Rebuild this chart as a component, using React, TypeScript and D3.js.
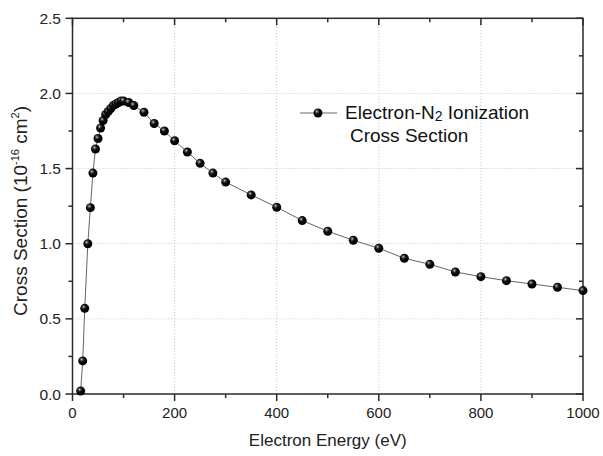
import React, { useRef, useEffect } from 'react';
import * as d3 from 'd3';

// electron energy (eV) and N2 ionization cross section (10^-16 cm^2)
const energy = [16, 20, 24, 30, 35, 40, 45, 50, 55, 60, 65, 70, 75, 80, 85, 90, 95, 100,
  110, 120, 140, 160, 180, 200, 225, 250, 275, 300,
  350, 400, 450, 500, 550, 600, 650, 700, 750, 800, 850, 900, 950, 1000];
const crossSection = [0.02, 0.22, 0.57, 1.0, 1.24, 1.47, 1.63, 1.7, 1.77, 1.82, 1.86, 1.88, 1.9, 1.92, 1.93, 1.94, 1.95, 1.95,
  1.94, 1.92, 1.875, 1.8, 1.75, 1.685, 1.61, 1.535, 1.47, 1.41,
  1.325, 1.243, 1.154, 1.083, 1.023, 0.97, 0.903, 0.863, 0.812, 0.781, 0.754, 0.732, 0.71, 0.688];
const xTicks = [0, 200, 400, 600, 800, 1000];
const xMinor = [100, 300, 500, 700, 900];
const yTicks = [0, 0.5, 1.0, 1.5, 2.0, 2.5];
const yMinor = [0.25, 0.75, 1.25, 1.75, 2.25];

const W = 603;
const H = 456;
const FONT = '"Liberation Sans", Arial, sans-serif';

const App = () => {
  const svgRef = useRef(null);

  useEffect(() => {
    const svg = d3.select(svgRef.current);
    svg.selectAll('*').remove();

    const x = d3.scaleLinear().domain([0, 1000]).range([72.5, 583]);
    const y = d3.scaleLinear().domain([0, 2.5]).range([394, 18.3]);
    const data = energy.map((e, i) => ({ e, s: crossSection[i] }));

    // glossy black ball marker
    const defs = svg.append('defs');
    const grad = defs.append('radialGradient')
      .attr('id', 'ball')
      .attr('cx', '38%').attr('cy', '34%').attr('r', '62%');
    grad.append('stop').attr('offset', '0%').attr('stop-color', '#e8e8e8');
    grad.append('stop').attr('offset', '16%').attr('stop-color', '#666');
    grad.append('stop').attr('offset', '45%').attr('stop-color', '#0c0c0c');
    grad.append('stop').attr('offset', '100%').attr('stop-color', '#000');

    // dotted grid
    const grid = svg.append('g')
      .attr('stroke', '#c4c6d4')
      .attr('stroke-width', 1)
      .attr('stroke-dasharray', '1,2');
    grid.selectAll('.gx')
      .data(xTicks.slice(1, -1))
      .enter()
      .append('line')
      .attr('x1', d => x(d)).attr('x2', d => x(d))
      .attr('y1', y(0)).attr('y2', y(2.5));
    grid.selectAll('.gy')
      .data(yTicks.slice(1, -1))
      .enter()
      .append('line')
      .attr('x1', x(0)).attr('x2', x(1000))
      .attr('y1', d => y(d)).attr('y2', d => y(d));

    // frame and ticks (outward on left/bottom, inward on top/right)
    const frame = svg.append('g').attr('stroke', '#2a2a2a').attr('stroke-width', 1.5);
    frame.append('rect')
      .attr('x', x(0)).attr('y', y(2.5))
      .attr('width', x(1000) - x(0)).attr('height', y(0) - y(2.5))
      .attr('fill', 'none');

    const tickLen = major => (major ? 7 : 4);
    [[xTicks, true], [xMinor, false]].forEach(([ticks, major]) => {
      frame.selectAll(null)
        .data(ticks)
        .enter()
        .append('line')
        .attr('x1', d => x(d)).attr('x2', d => x(d))
        .attr('y1', y(0)).attr('y2', y(0) + tickLen(major));
      frame.selectAll(null)
        .data(ticks)
        .enter()
        .append('line')
        .attr('x1', d => x(d)).attr('x2', d => x(d))
        .attr('y1', y(2.5)).attr('y2', y(2.5) + tickLen(major));
    });
    [[yTicks, true], [yMinor, false]].forEach(([ticks, major]) => {
      frame.selectAll(null)
        .data(ticks)
        .enter()
        .append('line')
        .attr('y1', d => y(d)).attr('y2', d => y(d))
        .attr('x1', x(0)).attr('x2', x(0) - tickLen(major));
      frame.selectAll(null)
        .data(ticks)
        .enter()
        .append('line')
        .attr('y1', d => y(d)).attr('y2', d => y(d))
        .attr('x1', x(1000)).attr('x2', x(1000) - tickLen(major));
    });

    // tick labels
    svg.selectAll('.xl')
      .data(xTicks)
      .enter()
      .append('text')
      .attr('x', d => x(d))
      .attr('y', 418)
      .attr('text-anchor', 'middle')
      .style('font-family', FONT)
      .style('font-size', '15px')
      .attr('fill', '#222')
      .text(d => d);
    svg.selectAll('.yl')
      .data(yTicks)
      .enter()
      .append('text')
      .attr('x', 61)
      .attr('y', d => y(d))
      .attr('dy', '0.36em')
      .attr('text-anchor', 'end')
      .style('font-family', FONT)
      .style('font-size', '15.5px')
      .attr('fill', '#222')
      .text(d => d.toFixed(1));

    // axis titles
    svg.append('text')
      .attr('x', (x(0) + x(1000)) / 2)
      .attr('y', 446)
      .attr('text-anchor', 'middle')
      .style('font-family', FONT)
      .style('font-size', '17px')
      .attr('fill', '#222')
      .text('Electron Energy (eV)');
    const yt = svg.append('text')
      .attr('transform', 'translate(27,211) rotate(-90)')
      .attr('text-anchor', 'middle')
      .style('font-family', FONT)
      .style('font-size', '19px')
      .attr('fill', '#222');
    yt.append('tspan').text('Cross Section (10');
    yt.append('tspan').attr('dy', -8).style('font-size', '11px').text('-16');
    yt.append('tspan').attr('dy', 8).text(' cm');
    yt.append('tspan').attr('dy', -8).style('font-size', '11px').text('2');
    yt.append('tspan').attr('dy', 8).text(')');

    // series
    const line = d3.line().x(d => x(d.e)).y(d => y(d.s));
    svg.append('path')
      .datum(data)
      .attr('d', line)
      .attr('fill', 'none')
      .attr('stroke', '#666')
      .attr('stroke-width', 1);
    svg.selectAll('.pt')
      .data(data)
      .enter()
      .append('circle')
      .attr('cx', d => x(d.e))
      .attr('cy', d => y(d.s))
      .attr('r', 4.5)
      .attr('fill', 'url(#ball)');

    // legend
    const lg = svg.append('g');
    lg.append('line')
      .attr('x1', 300).attr('x2', 337)
      .attr('y1', 113).attr('y2', 113)
      .attr('stroke', '#666').attr('stroke-width', 1);
    lg.append('circle').attr('cx', 318).attr('cy', 113).attr('r', 4.5).attr('fill', 'url(#ball)');
    const t1 = lg.append('text')
      .attr('x', 345).attr('y', 119)
      .style('font-family', FONT)
      .style('font-size', '19px')
      .attr('fill', '#111');
    t1.append('tspan').text('Electron-N');
    t1.append('tspan').attr('dy', 2).style('font-size', '14px').text('2');
    t1.append('tspan').attr('dy', -2).text(' Ionization');
    lg.append('text')
      .attr('x', 350).attr('y', 142)
      .style('font-family', FONT)
      .style('font-size', '19px')
      .attr('fill', '#111')
      .text('Cross Section');
  }, []);

  return (
    <svg
      ref={svgRef}
      width={W}
      height={H}
      style={{ position: 'absolute', left: 0, top: 0, background: '#fff' }}
    />
  );
};

export default App;
